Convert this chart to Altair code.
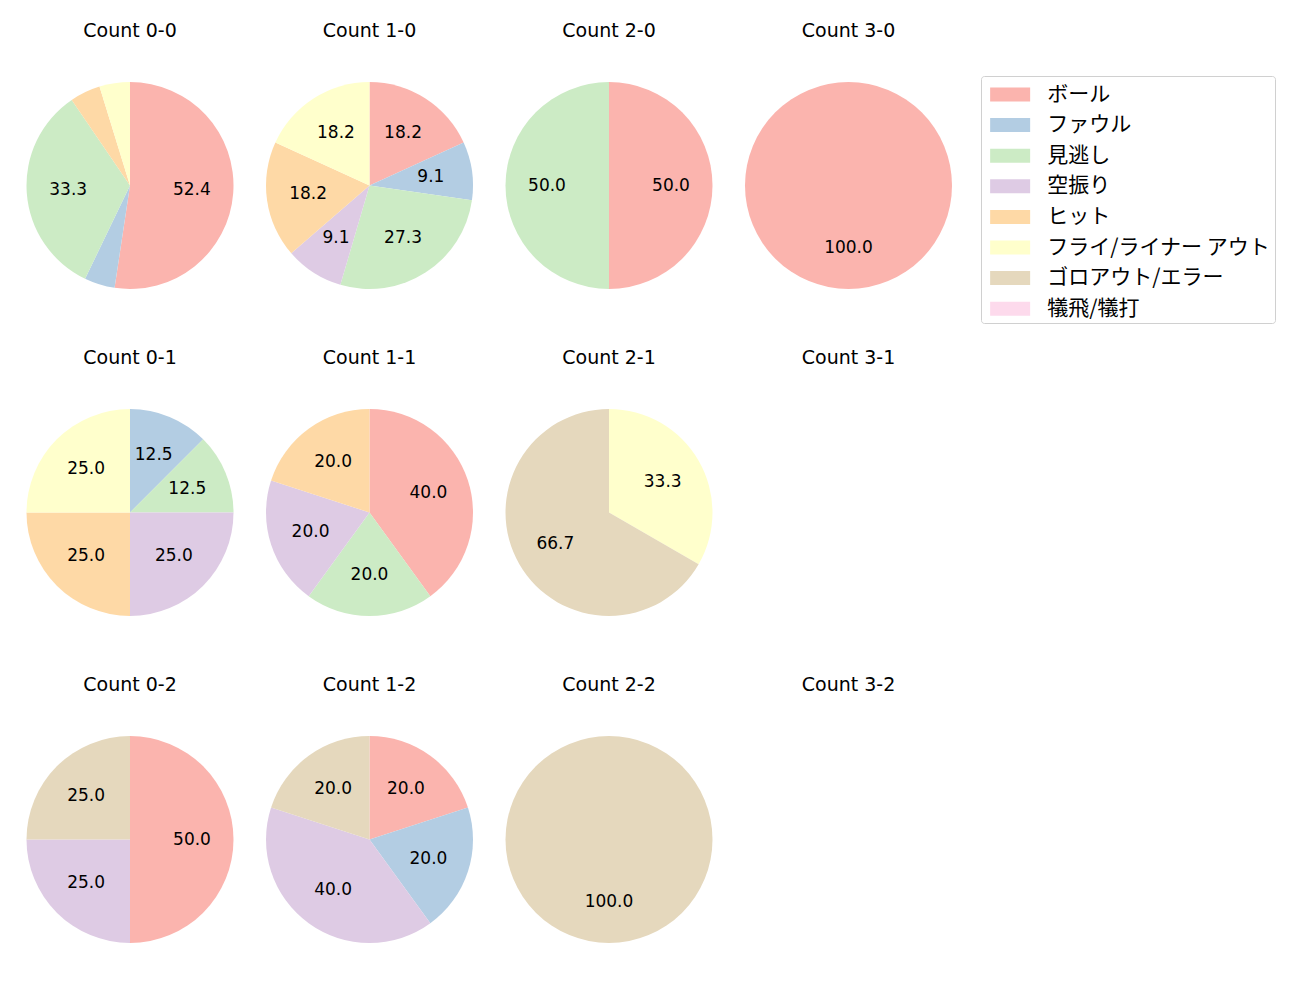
import altair as alt
import pandas as pd

categories = ["ボール", "ファウル", "見逃し", "空振り", "ヒット",
              "フライ/ライナー アウト", "ゴロアウト/エラー", "犠飛/犠打"]
colors = ["#fbb4ae", "#b3cde3", "#ccebc5", "#decbe4", "#fed9a6",
          "#ffffcc", "#e5d8bd", "#fddaec"]

panels = ["0-0", "1-0", "2-0", "3-0",
          "0-1", "1-1", "2-1", "3-1",
          "0-2", "1-2", "2-2", "3-2"]

ball     = [11, 2, 1, 1, 0, 2, 0, 0, 2, 1, 0, 0]
foul     = [1, 1, 0, 0, 1, 0, 0, 0, 0, 1, 0, 0]
looking  = [7, 3, 1, 0, 1, 1, 0, 0, 0, 0, 0, 0]
swinging = [0, 1, 0, 0, 2, 1, 0, 0, 1, 2, 0, 0]
hit      = [1, 2, 0, 0, 2, 1, 0, 0, 0, 0, 0, 0]
flyout   = [1, 2, 0, 0, 2, 0, 1, 0, 0, 0, 0, 0]
groundout = [0, 0, 0, 0, 0, 0, 2, 0, 1, 1, 1, 0]
sacrifice = [0, 0, 0, 0, 0, 0, 0, 0, 0, 0, 0, 0]

series = [ball, foul, looking, swinging, hit, flyout, groundout, sacrifice]

rows = []
for pi, p in enumerate(panels):
    total = sum(s[pi] for s in series)
    for ci, cat in enumerate(categories):
        n = series[ci][pi]
        if n > 0:
            pct = 100.0 * n / total
            rows.append({"panel": p, "cat": cat, "idx": ci, "n": n,
                         "label": f"{pct:.1f}" if pct >= 5 else ""})
df = pd.DataFrame(rows)

FONT = "DejaVu Sans, Noto Sans CJK JP"
LFONT = "Noto Sans CJK JP, DejaVu Sans"
R = 103.5

# legend swatch: 40x14 rectangle drawn with a symbol whose layout size is ~28.7
SW = 824 ** 0.5 / 2.0
swatch = "M{a:.4f},{b:.4f}L{c:.4f},{b:.4f}L{c:.4f},{d:.4f}L{a:.4f},{d:.4f}Z".format(
    a=-20 / SW, b=-7 / SW, c=20 / SW, d=7 / SW)

legend = alt.Legend(
    title=None, orient="none", legendX=954.5, legendY=-6,
    symbolType=swatch, symbolSize=824, symbolOffset=25 - SW,
    symbolStrokeWidth=0, symbolOpacity=1,
    labelFontSize=21, labelFont=LFONT, labelColor="black",
    labelOffset=37 - SW, labelLimit=0,
    padding=4, strokeColor="#d0d0d0", fillColor="white", cornerRadius=3,
    rowPadding=5.6,
)

color = alt.Color("cat:N", scale=alt.Scale(domain=categories, range=colors),
                  legend=legend)


def panel_chart(p):
    base = alt.Chart(df).transform_filter(alt.datum.panel == p)
    arc = base.mark_arc(radius=R, stroke=None).encode(
        theta=alt.Theta("n:Q", stack=True),
        color=color,
        order=alt.Order("idx:Q"),
    )
    txt = base.mark_text(radius=62, fontSize=17, font=FONT, color="black").encode(
        theta=alt.Theta("n:Q", stack=True),
        text="label:N",
        order=alt.Order("idx:Q"),
    )
    return alt.layer(arc, txt).properties(
        width=2 * R, height=2 * R, title=f"Count {p}"
    )


chart = alt.concat(*[panel_chart(p) for p in panels], columns=4,
                   spacing={"row": 60, "column": 32.5}).properties(
    padding={"left": 18.5, "top": 14, "right": 5, "bottom": 5}
).configure_view(stroke=None).configure_title(
    fontSize=19, font=FONT, fontWeight="normal", anchor="middle",
    color="black", offset=41
)

chart.save("out.html", embed_options={"renderer": "svg", "actions": False})
